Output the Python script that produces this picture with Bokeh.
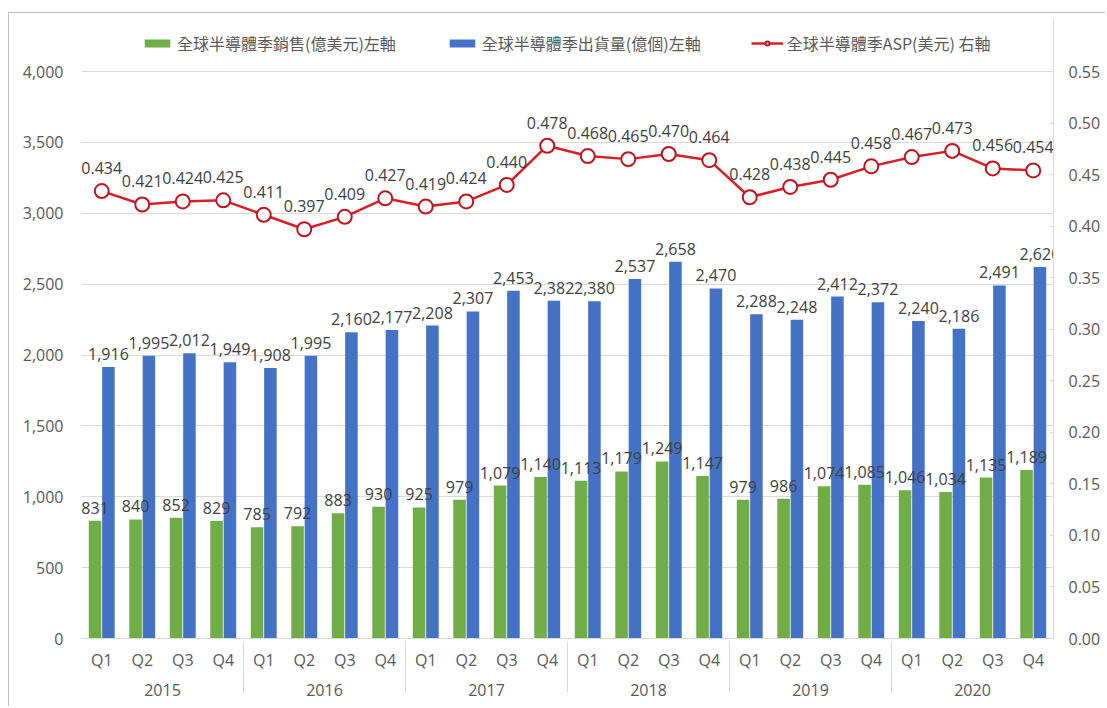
from bokeh.plotting import figure
from bokeh.models import (ColumnDataSource, FactorRange, Range1d, LinearAxis, FixedTicker,
                          NumeralTickFormatter, Legend, LegendItem)
from bokeh.transform import dodge
from bokeh.core.properties import value
from bokeh.embed import file_html
from bokeh.resources import INLINE

years = ["2015", "2016", "2017", "2018", "2019", "2020"]
quarters = ["Q1", "Q2", "Q3", "Q4"]
sales = [831, 840, 852, 829, 785, 792, 883, 930, 925, 979, 1079, 1140,
         1113, 1179, 1249, 1147, 979, 986, 1074, 1085, 1046, 1034, 1135, 1189]
shipments = [1916, 1995, 2012, 1949, 1908, 1995, 2160, 2177, 2208, 2307, 2453, 2382,
             2380, 2537, 2658, 2470, 2288, 2248, 2412, 2372, 2240, 2186, 2491, 2620]
asp = [0.434, 0.421, 0.424, 0.425, 0.411, 0.397, 0.409, 0.427, 0.419, 0.424, 0.440, 0.478,
       0.468, 0.465, 0.470, 0.464, 0.428, 0.438, 0.445, 0.458, 0.467, 0.473, 0.456, 0.454]
name_sales = "全球半導體季銷售(億美元)左軸"
name_ship = "全球半導體季出貨量(億個)左軸"
name_asp = "全球半導體季ASP(美元) 右軸"
left_ticks = [0, 500, 1000, 1500, 2000, 2500, 3000, 3500, 4000]
right_ticks = [0.00, 0.05, 0.10, 0.15, 0.20, 0.25, 0.30, 0.35, 0.40, 0.45, 0.50, 0.55]
left_max = 4000
right_max = 0.55

GREEN = "#70AD47"
BLUE = "#4472C4"
RED = "#D81E26"
TXT = "#404040"
AX = "#595959"
GRID = "#D9D9D9"
FONT = "Open Sans"

# layout (pixels)
W, H = 1105, 706
F_LEFT, F_RIGHT, F_TOP, F_BOTTOM = 81, 1053, 20, 638
AXIS_TOP = 71  # pixel where 4000 / 0.55 sits
scale = (F_BOTTOM - F_TOP) / (F_BOTTOM - AXIS_TOP)

factors = [(y, q) for y in years for q in quarters]
src = ColumnDataSource(dict(
    x=factors, sales=sales, ship=shipments, asp=asp,
    sales_txt=[f"{v:,}" for v in sales],
    ship_txt=[f"{v:,}" for v in shipments],
    asp_txt=[f"{v:.3f}" for v in asp],
))

xr = FactorRange(*factors, range_padding=0, group_padding=0, factor_padding=0)
p = figure(width=W, height=H, x_range=xr, y_range=Range1d(0, left_max * scale),
           output_backend="svg", toolbar_location=None,
           min_border_left=F_LEFT, min_border_right=W - F_RIGHT,
           min_border_top=F_TOP, min_border_bottom=H - F_BOTTOM)
p.extra_y_ranges = {"asp": Range1d(0, right_max * scale)}
p.outline_line_color = None
p.background_fill_color = "white"
p.border_fill_alpha = 0
p.styles = {
    "background": "linear-gradient(#BFBFBF,#BFBFBF) 8px 12px / 1px 100% no-repeat, "
                  "linear-gradient(#BFBFBF,#BFBFBF) 8px 12px / 100% 1px no-repeat, white",
}

# grid
p.xgrid.visible = False
p.ygrid.grid_line_color = GRID
p.ygrid.grid_line_width = 1
p.ygrid.ticker = FixedTicker(ticks=left_ticks)

# left axis
ya = p.yaxis[0]
ya.ticker = FixedTicker(ticks=left_ticks)
ya.formatter = NumeralTickFormatter(format="0,0")
ya.axis_line_color = None
ya.major_tick_line_color = None
ya.major_tick_in = 0
ya.major_tick_out = 0
ya.minor_tick_line_color = None
ya.major_label_standoff = 18
ya.major_label_text_font = FONT
ya.major_label_text_font_size = "16px"
ya.major_label_text_color = AX

# right axis
ra = LinearAxis(y_range_name="asp", ticker=FixedTicker(ticks=right_ticks),
                formatter=NumeralTickFormatter(format="0.00"))
ra.axis_line_color = GRID
ra.major_tick_line_color = GRID
ra.major_tick_in = 4
ra.major_tick_out = 0
ra.minor_tick_line_color = None
ra.major_label_standoff = 15
ra.major_label_text_font = FONT
ra.major_label_text_font_size = "16px"
ra.major_label_text_color = AX
p.add_layout(ra, "right")

# x axis
xa = p.xaxis[0]
xa.axis_line_color = GRID
xa.major_tick_line_color = None
xa.major_tick_in = 0
xa.major_tick_out = 0
xa.minor_tick_line_color = None
xa.major_label_standoff = 10
xa.major_label_orientation = "horizontal"
xa.major_label_text_font = FONT
xa.major_label_text_font_size = "16px"
xa.major_label_text_color = AX
xa.group_text_font = FONT
xa.group_text_font_size = "16px"
xa.group_text_font_style = "normal"
xa.group_text_color = AX
xa.separator_line_color = GRID
xa.separator_line_width = 1

# bars
g = p.vbar(x=dodge("x", -0.165, range=xr), top="sales", width=0.31, source=src,
           fill_color=GREEN, line_color=None)
b = p.vbar(x=dodge("x", 0.165, range=xr), top="ship", width=0.31, source=src,
           fill_color=BLUE, line_color=None)

# ASP line
l = p.line(x="x", y="asp", y_range_name="asp", source=src, line_color=RED, line_width=2.5)
c = p.scatter(x="x", y="asp", y_range_name="asp", source=src, marker="circle", size=14,
              fill_color="white", line_color="#C0141E", line_width=2)

# data labels
common = dict(source=src, text_align="center", text_baseline="alphabetic",
              text_font=value(FONT), text_font_size="16px", text_color=TXT)
p.text(x=dodge("x", -0.165, range=xr), y="sales", text="sales_txt", y_offset=-13, **common)
p.text(x=dodge("x", 0.165, range=xr), y="ship", text="ship_txt", y_offset=-13, **common)
p.text(x="x", y="asp", text="asp_txt", y_range_name="asp", y_offset=-23, **common)

legend = Legend(items=[LegendItem(label=name_sales, renderers=[g]),
                       LegendItem(label=name_ship, renderers=[b]),
                       LegendItem(label=name_asp, renderers=[l, c])],
                orientation="horizontal", location=(60, 583), spacing=50,
                glyph_width=32, glyph_height=10, label_height=20, label_standoff=4,
                padding=0, margin=0,
                label_text_font="Noto Sans CJK TC", label_text_font_size="16px",
                label_text_color=AX, border_line_color=None, background_fill_alpha=0)
p.add_layout(legend, "center")

with open("out.html", "w") as f:
    f.write(file_html(p, INLINE))
